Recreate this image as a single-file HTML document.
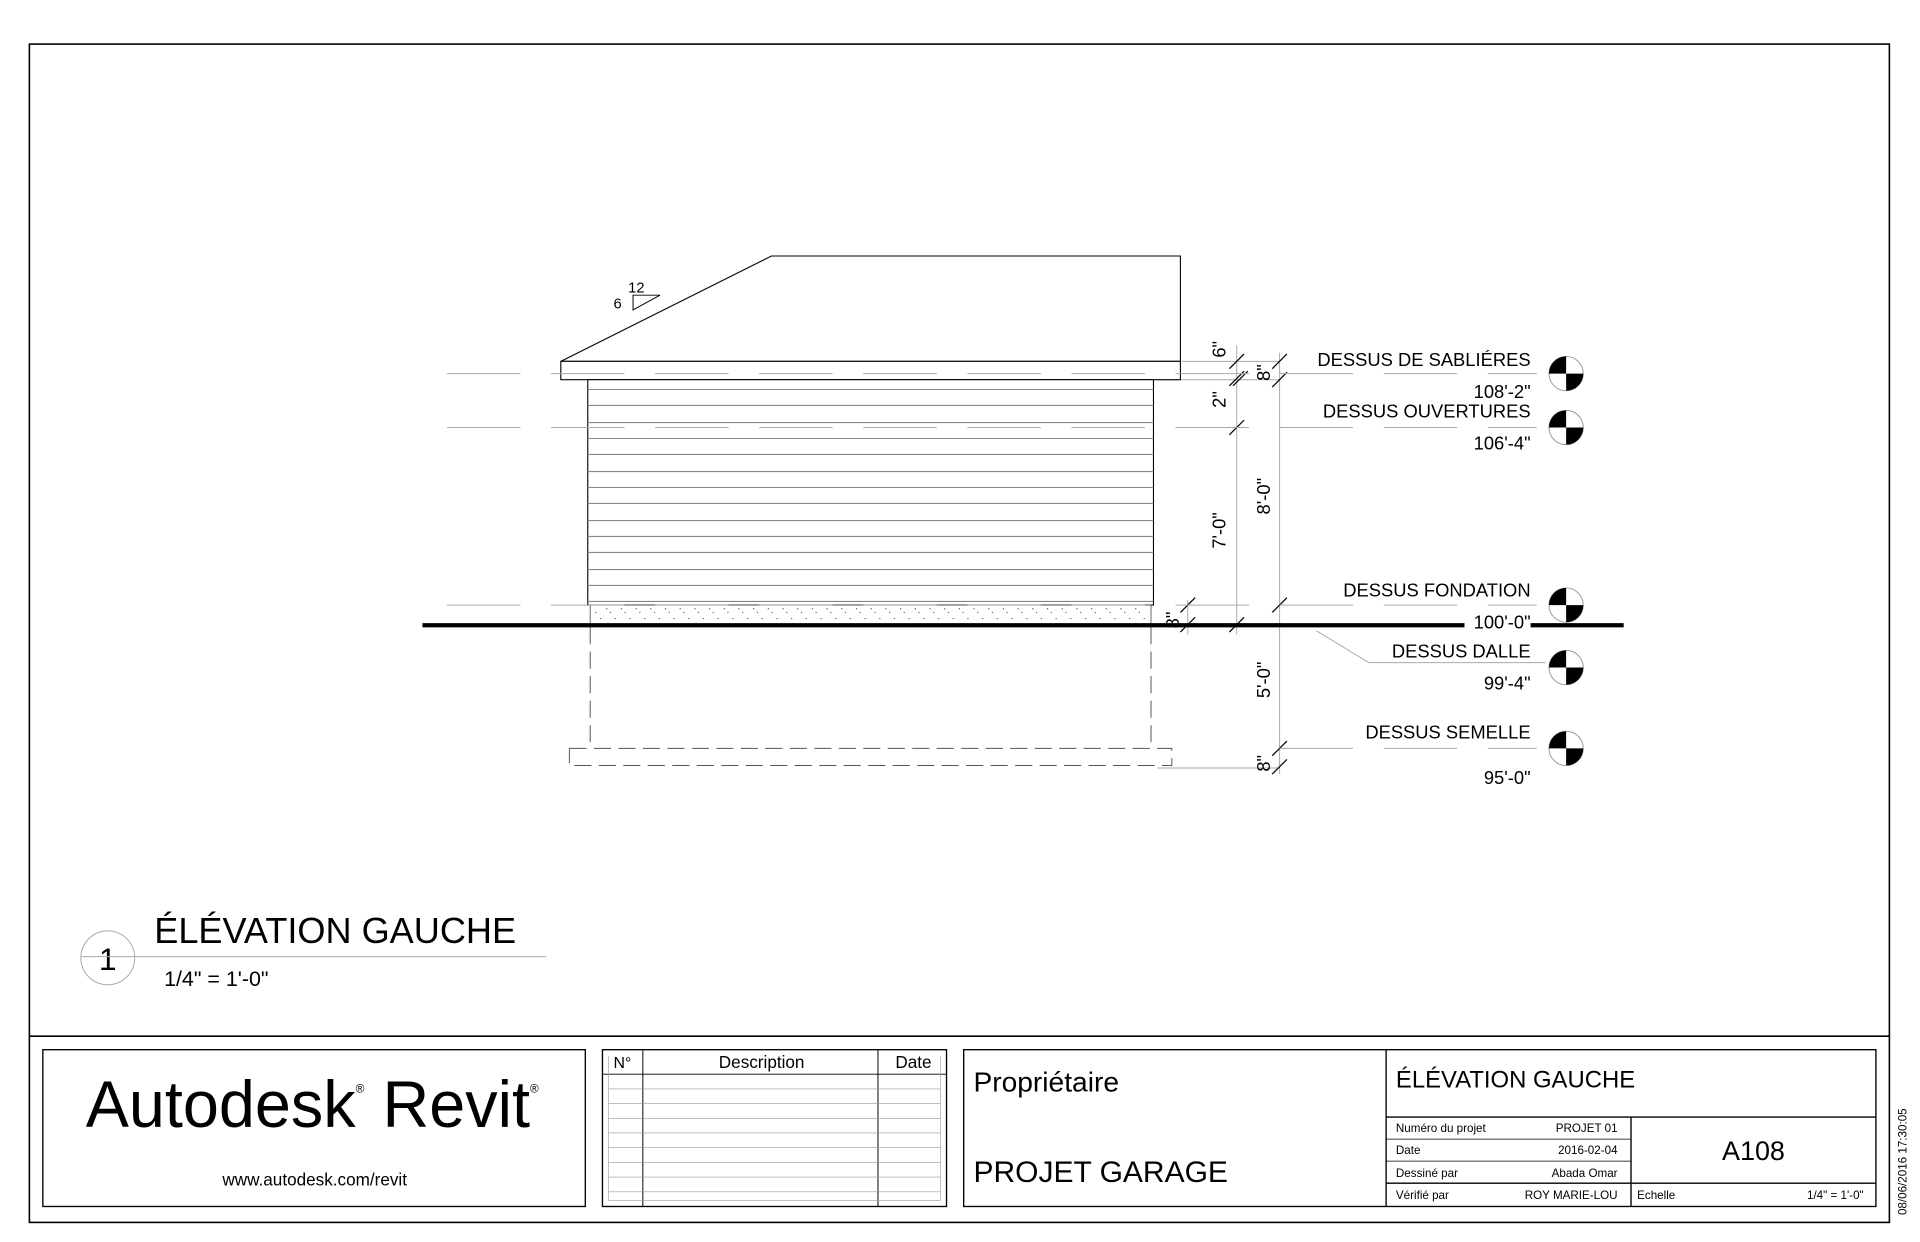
<!DOCTYPE html>
<html><head><meta charset="utf-8"><style>
html,body{margin:0;padding:0;background:#fff;}
svg{display:block;}
text{font-family:"Liberation Sans",Arial,sans-serif;fill:#000;}
</style></head><body>
<svg width="1920" height="1242" viewBox="0 0 1568 1014" preserveAspectRatio="none" xmlns="http://www.w3.org/2000/svg">
<rect x="0" y="0" width="1568" height="1014" fill="#fff"/>
<rect x="24" y="36" width="1519" height="962" fill="none" stroke="#000" stroke-width="1.3"/>
<line x1="24" y1="846" x2="1543" y2="846" stroke="#000" stroke-width="1.3"/>

<g stroke="#aaa" stroke-width="0.8" fill="none">
<line x1="965" y1="295" x2="1045" y2="295"/>
<line x1="945" y1="310" x2="1045" y2="310"/>
<line x1="945" y1="627" x2="1045" y2="627"/>
<line x1="1010" y1="282" x2="1010" y2="518"/>
<line x1="1045" y1="288" x2="1045" y2="632"/>
<line x1="970" y1="490" x2="970" y2="518"/>
<polyline points="1075,515 1118,541 1262,541"/>
</g>
<g stroke="#000" stroke-width="1">
<line x1="1004" y1="301" x2="1016" y2="289"/>
<line x1="1004" y1="315" x2="1016" y2="303"/>
<line x1="1007" y1="315" x2="1019" y2="303"/>
<line x1="1004" y1="355" x2="1016" y2="343"/>
<line x1="1004" y1="516" x2="1016" y2="504"/>
<line x1="1039" y1="301" x2="1051" y2="289"/>
<line x1="1039" y1="316" x2="1051" y2="304"/>
<line x1="1039" y1="500" x2="1051" y2="488"/>
<line x1="1039" y1="617" x2="1051" y2="605"/>
<line x1="1039" y1="632" x2="1051" y2="620"/>
<line x1="964" y1="500" x2="976" y2="488"/>
<line x1="964" y1="516" x2="976" y2="504"/>
</g>
<g font-size="15">
<text transform="translate(1001,292) rotate(-90)">6"</text>
<text transform="translate(1001,333) rotate(-90)">2"</text>
<text transform="translate(1001,448) rotate(-90)">7'-0"</text>
<text transform="translate(1037,311) rotate(-90)">8"</text>
<text transform="translate(1037,420) rotate(-90)">8'-0"</text>
<text transform="translate(1037,570) rotate(-90)">5'-0"</text>
<text transform="translate(1037,630) rotate(-90)">8"</text>
<text transform="translate(963,513) rotate(-90)">8"</text>
</g>

<polygon points="458,295 630,209 964,209 964,295" fill="#fff" stroke="#000" stroke-width="0.9"/>
<rect x="458" y="295" width="506" height="15" fill="#fff" stroke="#000" stroke-width="0.9"/>
<rect x="480" y="310" width="462" height="184" fill="#fff" stroke="#000" stroke-width="0.9"/>
<g stroke="#888" stroke-width="0.9">
<line x1="480" y1="318" x2="942" y2="318"/>
<line x1="480" y1="331" x2="942" y2="331"/>
<line x1="480" y1="345" x2="942" y2="345"/>
<line x1="480" y1="358" x2="942" y2="358"/>
<line x1="480" y1="371" x2="942" y2="371"/>
<line x1="480" y1="385" x2="942" y2="385"/>
<line x1="480" y1="398" x2="942" y2="398"/>
<line x1="480" y1="411" x2="942" y2="411"/>
<line x1="480" y1="425" x2="942" y2="425"/>
<line x1="480" y1="438" x2="942" y2="438"/>
<line x1="480" y1="451" x2="942" y2="451"/>
<line x1="480" y1="465" x2="942" y2="465"/>
<line x1="480" y1="478" x2="942" y2="478"/>
<line x1="480" y1="491" x2="942" y2="491"/>
</g>
<rect x="482" y="494" width="458" height="16" fill="#fff" stroke="#555" stroke-width="0.7"/>
<g stroke="#666" stroke-width="1" stroke-dasharray="1,11">
<line x1="486" y1="500" x2="938" y2="500"/>
<line x1="490" y1="505" x2="938" y2="505"/>
<line x1="495" y1="497" x2="938" y2="497"/>
</g>
<!-- level lines over building -->
<g stroke="#aaa" stroke-width="0.8" fill="none" stroke-dasharray="60,25">
<line x1="365" y1="305" x2="1255" y2="305"/>
<line x1="365" y1="349" x2="1255" y2="349"/>
<line x1="365" y1="494" x2="1255" y2="494"/>
<line x1="1045" y1="611" x2="1255" y2="611"/>
</g>
<g stroke="#555" stroke-width="0.8" fill="none" stroke-dasharray="14,6">
<line x1="482" y1="512" x2="482" y2="611"/>
<line x1="940" y1="512" x2="940" y2="611"/>
<rect x="465" y="611" width="492" height="14"/>
</g>
<line x1="345" y1="510.5" x2="1326" y2="510.5" stroke="#000" stroke-width="3.5"/>

<polygon points="517,253 539,241 517,241" fill="none" stroke="#000" stroke-width="0.8"/>
<text x="513" y="239" font-size="12">12</text>
<text x="501" y="252" font-size="12">6</text>

<defs>
<g id="lv">
<circle cx="0" cy="0" r="14" fill="#fff" stroke="#999" stroke-width="0.8"/>
<path d="M0,0 L-14,0 A14,14 0 0 1 0,-14 Z" fill="#000"/>
<path d="M0,0 L14,0 A14,14 0 0 1 0,14 Z" fill="#000"/>
</g>
</defs>
<use href="#lv" x="1279" y="305"/>
<use href="#lv" x="1279" y="349"/>
<use href="#lv" x="1279" y="494"/>
<use href="#lv" x="1279" y="545"/>
<use href="#lv" x="1279" y="611"/>
<rect x="1196" y="500" width="54" height="16" fill="#fff"/>
<g font-size="15" text-anchor="end">
<text x="1250" y="299">DESSUS DE SABLIÉRES</text>
<text x="1250" y="325">108'-2"</text>
<text x="1250" y="341">DESSUS OUVERTURES</text>
<text x="1250" y="367">106'-4"</text>
<text x="1250" y="487">DESSUS FONDATION</text>
<text x="1250" y="513">100'-0"</text>
<text x="1250" y="537">DESSUS DALLE</text>
<text x="1250" y="563">99'-4"</text>
<text x="1250" y="603">DESSUS SEMELLE</text>
<text x="1250" y="640">95'-0"</text>
</g>

<circle cx="88" cy="782" r="22" fill="none" stroke="#aaa" stroke-width="0.8"/>
<text x="88" y="792" font-size="26" text-anchor="middle">1</text>
<line x1="66" y1="781" x2="446" y2="781" stroke="#aaa" stroke-width="0.8"/>
<text x="126" y="770" font-size="29.5">ÉLÉVATION GAUCHE</text>
<text x="134" y="805" font-size="17.5">1/4" = 1'-0"</text>

<g fill="none" stroke="#000" stroke-width="1.1">
<rect x="35" y="857" width="443" height="128"/>
<rect x="492" y="857" width="281" height="128"/>
<rect x="787" y="857" width="745" height="128"/>
<line x1="1132" y1="857" x2="1132" y2="985"/>
<line x1="1132" y1="912" x2="1532" y2="912"/>
<line x1="1332" y1="912" x2="1332" y2="985"/>
<line x1="1132" y1="966" x2="1532" y2="966"/>
</g>
<g stroke="#000" stroke-width="0.6">
<line x1="1132" y1="930" x2="1332" y2="930"/>
<line x1="1132" y1="948" x2="1332" y2="948"/>
</g>
<g stroke="#000" stroke-width="0.8">
<line x1="492" y1="877" x2="773" y2="877"/>
<line x1="525" y1="857" x2="525" y2="985"/>
<line x1="717" y1="857" x2="717" y2="985"/>
</g>
<g stroke="#999" stroke-width="0.5">
<line x1="497" y1="889" x2="768" y2="889"/>
<line x1="497" y1="901" x2="768" y2="901"/>
<line x1="497" y1="913" x2="768" y2="913"/>
<line x1="497" y1="925" x2="768" y2="925"/>
<line x1="497" y1="937" x2="768" y2="937"/>
<line x1="497" y1="949" x2="768" y2="949"/>
<line x1="497" y1="961" x2="768" y2="961"/>
<line x1="497" y1="973" x2="768" y2="973"/>
<line x1="497" y1="862" x2="497" y2="980"/>
<line x1="768" y1="862" x2="768" y2="980"/>
<line x1="497" y1="980" x2="768" y2="980"/>
</g>
<text x="501" y="872" font-size="13">N°</text>
<text x="622" y="872" font-size="14" text-anchor="middle">Description</text>
<text x="746" y="872" font-size="14" text-anchor="middle">Date</text>

<text x="70" y="920" font-size="54" textLength="370" lengthAdjust="spacingAndGlyphs">Autodesk<tspan font-size="10" dy="-28">®</tspan><tspan dy="28"> Revit</tspan><tspan font-size="10" dy="-28">®</tspan></text>
<text x="257" y="968" font-size="14" text-anchor="middle">www.autodesk.com/revit</text>

<text x="795" y="891" font-size="23">Propriétaire</text>
<text x="795" y="965" font-size="24.5">PROJET GARAGE</text>
<text x="1140" y="888" font-size="19.5">ÉLÉVATION GAUCHE</text>
<g font-size="9.5">
<text x="1140" y="924">Numéro du projet</text><text x="1321" y="924" text-anchor="end">PROJET 01</text>
<text x="1140" y="942">Date</text><text x="1321" y="942" text-anchor="end">2016-02-04</text>
<text x="1140" y="961">Dessiné par</text><text x="1321" y="961" text-anchor="end">Abada Omar</text>
<text x="1140" y="979">Vérifié par</text><text x="1321" y="979" text-anchor="end">ROY MARIE-LOU</text>
<text x="1337" y="979">Echelle</text><text x="1522" y="979" text-anchor="end">1/4" = 1'-0"</text>
</g>
<text x="1432" y="947" font-size="22" text-anchor="middle">A108</text>
<text transform="translate(1557,992) rotate(-90)" font-size="9.5">08/06/2016 17:30:05</text>
</svg>
</body></html>
